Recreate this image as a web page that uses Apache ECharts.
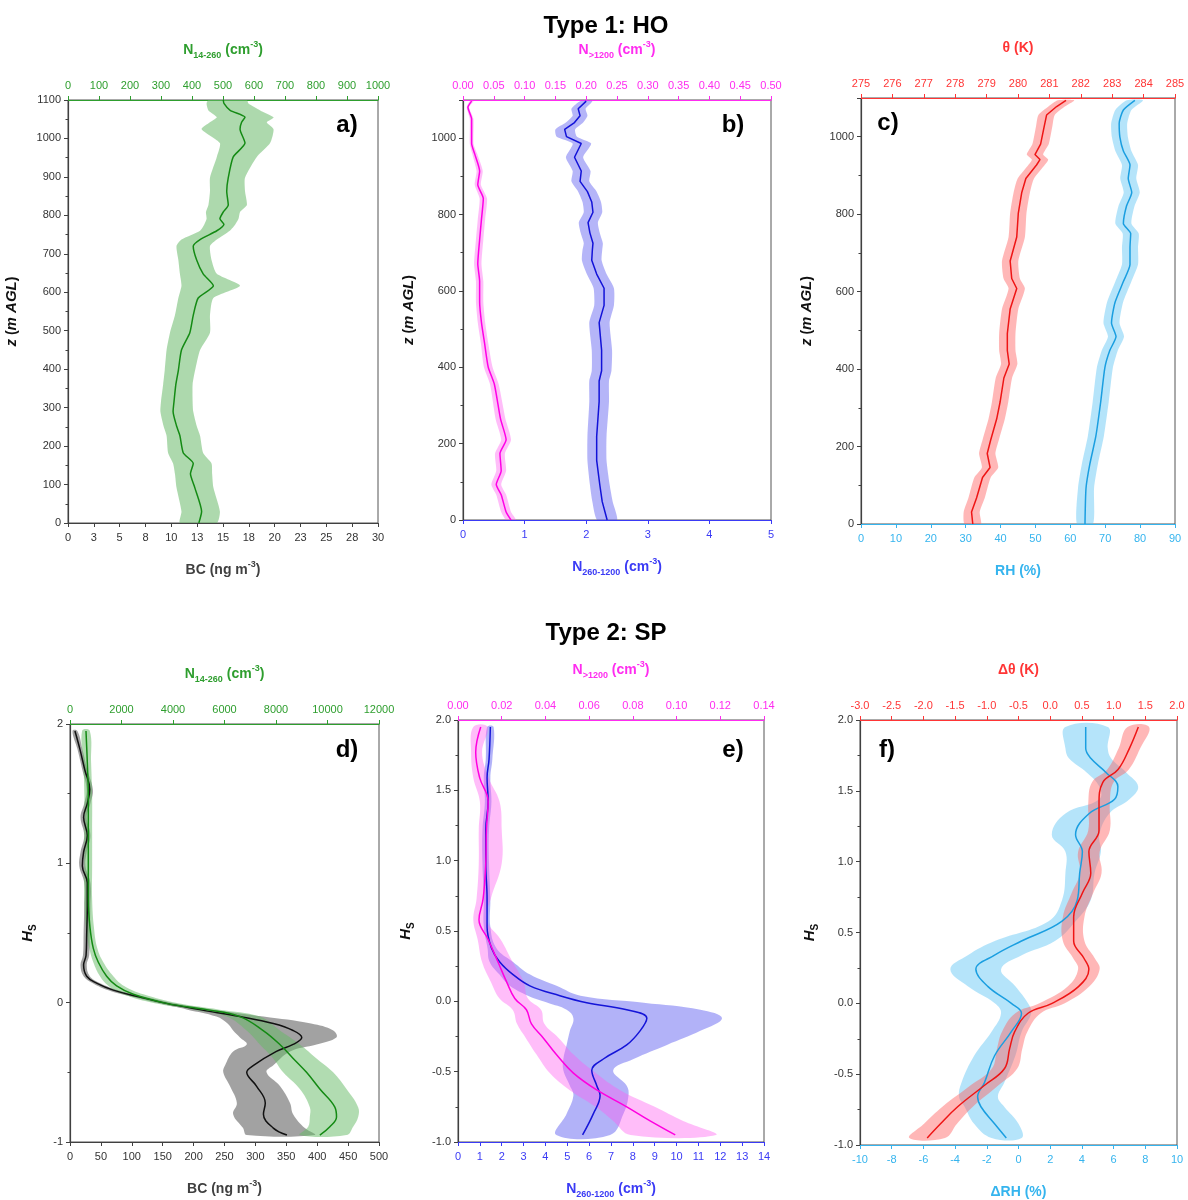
<!DOCTYPE html>
<html>
<head>
<meta charset="utf-8">
<script src="https://cdn.jsdelivr.net/npm/echarts@6/dist/echarts.min.js"></script>
<style>
  html, body { margin: 0; padding: 0; background: #fff; }
  #chart { width: 1188px; height: 1200px; }
</style>
</head>
<body>
<div id="chart"></div>
<script>
// ---- data ----
// a) N14-260 profile (Type 1)
const aZ = [0,30,92,128,155,182,227,253,290,316,361,397,450,495,540,585,617,648,684,720,737,760,777,791,809,827,863,898,952,988,1024,1042,1055,1073,1091,1100];
const aN = [422,431,409,395,404,372,361,350,339,342,348,356,366,393,404,420,469,436,415,404,426,480,503,490,501,517,512,517,533,571,555,560,571,523,503,501];
const aNLo = [361,366,350,345,339,323,318,308,298,300,307,312,318,329,345,356,366,361,356,350,366,426,440,447,445,453,458,458,480,490,431,458,480,453,447,453];
const aNHi = [480,490,469,465,463,436,426,415,404,402,402,410,426,458,458,469,555,480,463,458,480,522,540,550,555,577,571,571,609,652,663,641,663,620,582,577];

// b) N260-1200 (bottom) and N>1200 (top)
const bBlueZ = [0,48,93,156,219,310,364,391,445,517,562,607,644,680,707,725,752,779,806,833,860,887,914,950,986,1004,1023,1041,1059,1077,1097];
const bBlue = [2.34,2.26,2.22,2.17,2.17,2.21,2.21,2.25,2.25,2.21,2.29,2.29,2.17,2.09,2.10,2.11,2.06,2.03,2.11,2.09,2.02,1.90,1.92,1.81,1.92,1.68,1.65,1.81,1.90,1.87,2.00];
const bBlueLo = [2.18,2.10,2.06,2.02,2.02,2.05,2.05,2.09,2.09,2.05,2.13,2.12,2.01,1.93,1.94,1.96,1.91,1.88,1.96,1.94,1.87,1.76,1.78,1.67,1.78,1.52,1.50,1.67,1.78,1.76,1.90];
const bBlueHi = [2.50,2.43,2.38,2.33,2.33,2.37,2.37,2.41,2.42,2.38,2.45,2.45,2.33,2.25,2.26,2.27,2.22,2.19,2.26,2.24,2.17,2.05,2.07,1.95,2.08,1.85,1.82,1.95,2.02,1.99,2.10];
const bMagZ = [0,21,66,93,129,174,210,264,355,400,463,517,571,625,671,734,788,842,878,914,959,986,1050,1081,1097];
const bMag = [0.078,0.070,0.062,0.054,0.062,0.060,0.070,0.061,0.051,0.041,0.035,0.030,0.027,0.027,0.024,0.027,0.030,0.033,0.024,0.027,0.019,0.014,0.014,0.008,0.014];
const bMagLo = [0.070,0.062,0.054,0.046,0.054,0.052,0.062,0.053,0.044,0.034,0.029,0.024,0.021,0.021,0.018,0.021,0.024,0.027,0.019,0.022,0.015,0.011,0.011,0.006,0.011];
const bMagHi = [0.086,0.078,0.070,0.062,0.070,0.068,0.078,0.069,0.058,0.048,0.041,0.036,0.033,0.033,0.030,0.033,0.036,0.039,0.029,0.032,0.023,0.017,0.017,0.010,0.017];

// c) theta (top) and RH (bottom)
const cThZ = [0,31,67,120,146,182,217,271,315,377,413,448,492,555,608,634,679,741,803,856,892,927,941,954,981,1025,1056,1078,1094];
const cTh = [278.56,278.52,278.68,278.87,279.11,279.02,279.13,279.32,279.43,279.55,279.72,279.66,279.66,279.75,279.96,279.80,279.75,279.96,280.01,280.12,280.25,280.59,280.70,280.54,280.72,280.83,280.91,281.23,281.53];
const cThLo = [278.30,278.27,278.42,278.61,278.85,278.76,278.87,279.06,279.17,279.29,279.46,279.40,279.40,279.49,279.70,279.54,279.49,279.70,279.75,279.86,279.99,280.33,280.44,280.28,280.46,280.57,280.65,280.97,281.27];
const cThHi = [278.82,278.78,278.94,279.13,279.37,279.28,279.39,279.58,279.69,279.81,279.98,279.92,279.92,280.01,280.22,280.06,280.01,280.22,280.27,280.38,280.51,280.85,280.96,280.80,280.98,281.09,281.17,281.49,281.79];
const cRhZ = [0,93,155,226,315,404,448,484,519,572,626,670,714,750,776,821,856,892,927,963,999,1034,1069,1094];
const cRh = [64.2,64.5,65.6,67.3,68.7,69.9,71.3,73.1,71.8,72.8,75.2,77.1,77.1,77.3,75.2,76.1,77.6,76.6,77.1,75.2,74.2,74.0,75.2,78.5];
const cRhLo = [61.9,62.2,63.3,65.0,66.4,67.6,69.0,70.8,69.5,70.5,72.9,74.8,74.8,75.0,72.9,73.8,75.3,74.3,74.8,72.9,71.9,71.7,72.9,76.2];
const cRhHi = [66.5,66.8,67.9,69.6,71.0,72.2,73.6,75.4,74.1,75.1,77.5,79.4,79.4,79.6,77.5,78.4,79.9,78.9,79.4,77.5,76.5,76.3,77.5,80.8];

// d) BC (bottom, black) and N14-260 (top, green), Type 2
const dBcH = [1.95,1.82,1.67,1.53,1.43,1.33,1.20,1.08,0.98,0.86,0.69,0.49,0.34,0.27,0.19,0.14,0.09,0.04,-0.005,-0.05,-0.10,-0.15,-0.20,-0.25,-0.30,-0.35,-0.45,-0.50,-0.60,-0.72,-0.80,-0.90,-0.95];
const dBc = [8,16,24,32,28,22,28,22,20,28,28,27,26,22,27,43,70,113,156,210,275,329,361,375,361,334,297,286,302,316,313,329,351];
const dBcLo = [4,12,20,27,23,17,23,17,15,23,23,22,21,17,22,37,62,103,144,190,237,255,264,275,286,264,251,248,259,270,264,280,286];
const dBcHi = [12,20,28,37,33,27,33,27,25,33,33,32,31,27,32,49,78,123,168,232,313,390,426,431,399,356,329,318,340,356,361,380,396];
const dNH = [1.95,1.72,1.48,1.23,0.98,0.74,0.54,0.39,0.29,0.19,0.12,0.06,-0.005,-0.05,-0.10,-0.20,-0.30,-0.40,-0.50,-0.62,-0.75,-0.82,-0.89,-0.95];
const dN = [621,673,711,711,711,711,776,905,1100,1423,1811,2458,3752,5304,6598,7503,8150,8668,9185,9703,10285,10350,10091,9703];
const dNLo = [470,520,560,560,560,560,620,750,905,1164,1500,2070,3300,4800,6080,6857,7374,7891,8279,8926,9314,9314,9250,8926];
const dNHi = [770,820,860,860,860,860,930,1060,1294,1682,2100,2846,4200,5800,7374,8150,8926,9573,10220,10737,11190,11190,10996,10737];

// e) N260-1200 (bottom, blue) and N>1200 (top, magenta)
const eBH = [1.95,1.72,1.59,1.42,1.22,0.98,0.73,0.53,0.38,0.28,0.19,0.11,0.04,-0.01,-0.06,-0.12,-0.21,-0.31,-0.41,-0.49,-0.60,-0.67,-0.80,-0.95];
const eB = [1.48,1.42,1.33,1.38,1.27,1.27,1.33,1.33,1.53,1.91,2.52,3.29,4.66,5.89,7.72,8.64,8.33,7.72,6.65,6.12,6.35,6.50,6.19,5.70];
const eBLo = [1.33,1.27,1.18,1.23,1.12,1.12,1.18,1.18,1.35,1.45,1.90,2.37,3.20,4.10,4.97,5.28,5.12,4.97,4.82,4.82,5.12,5.28,4.97,4.50];
const eBHi = [1.63,1.57,1.48,1.53,1.42,1.42,1.48,1.48,1.75,2.52,3.30,4.51,5.60,8.50,11.09,12.08,11.09,9.56,8.03,7.10,7.72,7.80,7.57,6.96];
const eMH = [1.95,1.77,1.59,1.42,1.22,0.98,0.73,0.58,0.44,0.28,0.14,0.02,-0.06,-0.16,-0.26,-0.38,-0.51,-0.63,-0.75,-0.85,-0.95];
const eM = [0.0104,0.0081,0.0099,0.0138,0.0130,0.0127,0.0115,0.0096,0.0138,0.0183,0.0222,0.0260,0.0313,0.0336,0.0390,0.0451,0.0528,0.0635,0.0772,0.0879,0.0994];
const eMLo = [0.0070,0.0060,0.0070,0.0100,0.0095,0.0095,0.0085,0.0070,0.0090,0.0110,0.0150,0.0190,0.0250,0.0270,0.0310,0.0360,0.0420,0.0510,0.0630,0.0710,0.0790];
const eMHi = [0.0135,0.0110,0.0140,0.0190,0.0200,0.0200,0.0150,0.0130,0.0195,0.0250,0.0300,0.0320,0.0380,0.0395,0.0460,0.0530,0.0630,0.0740,0.0900,0.1030,0.1180];

// f) dRH (bottom, light blue) and dTheta (top, red)
const fBH = [1.95,1.80,1.73,1.63,1.53,1.44,1.34,1.19,1.07,0.92,0.73,0.58,0.44,0.34,0.24,0.12,0.00,-0.07,-0.20,-0.37,-0.56,-0.66,-0.73,-0.85,-0.95];
const fB = [4.24,4.24,4.56,5.52,6.27,6.06,4.46,3.60,4.03,3.86,3.71,2.75,0.19,-1.51,-2.69,-1.94,-0.45,0.19,-0.45,-1.51,-2.15,-2.58,-2.37,-1.51,-0.77];
const fBLo = [2.96,2.96,3.18,4.30,5.10,5.10,2.96,2.10,2.96,2.96,2.75,1.90,-1.50,-3.20,-4.30,-3.20,-1.50,-1.10,-1.70,-2.80,-3.60,-3.75,-3.40,-2.80,-1.70];
const fBHi = [5.63,5.63,5.84,6.80,7.55,7.00,5.73,5.10,5.20,4.80,4.56,3.60,2.30,0.20,-1.10,-0.20,0.60,0.80,0.20,-0.20,-0.90,-1.30,-0.90,0.00,0.20];
const fRH = [1.95,1.80,1.65,1.56,1.41,1.22,1.07,0.92,0.78,0.61,0.44,0.32,0.24,0.12,0.00,-0.07,-0.20,-0.32,-0.46,-0.58,-0.73,-0.85,-0.95];
const fR = [1.39,1.25,1.07,0.83,0.77,0.77,0.61,0.64,0.51,0.37,0.37,0.53,0.61,0.45,0.03,-0.35,-0.56,-0.64,-0.72,-1.04,-1.46,-1.73,-1.94];
const fRLo = [1.22,1.08,0.90,0.66,0.60,0.60,0.44,0.47,0.34,0.20,0.20,0.36,0.44,0.28,-0.17,-0.55,-0.76,-0.84,-0.92,-1.26,-1.70,-1.99,-2.22];
const fRHi = [1.56,1.42,1.24,1.00,0.94,0.94,0.78,0.81,0.68,0.54,0.54,0.70,0.78,0.62,0.23,-0.15,-0.36,-0.44,-0.52,-0.82,-1.22,-1.47,-1.66];

// ---- styling ----
const FONT = 'Arial, "Liberation Sans", sans-serif';
const GRAY = '#404040';
const GREEN = '#2e9e2e', MAGENTA = '#ff2cf0', BLUE = '#3a3af5', RED = '#ff3535', LBLUE = '#35b4ee';

function richName(color) {
    return {
        fontFamily: FONT,
        rich: {
            t: { fontSize: 14, fontWeight: 'bold', color: color, lineHeight: 20, fontFamily: FONT },
            sub: { fontSize: 9, fontWeight: 'bold', color: color, lineHeight: 20, verticalAlign: 'bottom', fontFamily: FONT },
            sup: { fontSize: 9, fontWeight: 'bold', color: color, lineHeight: 20, verticalAlign: 'top', fontFamily: FONT },
            i: { fontSize: 15, fontWeight: 'bold', fontStyle: 'italic', color: color, lineHeight: 20, fontFamily: FONT },
            si: { fontSize: 10, fontWeight: 'bold', color: color, lineHeight: 20, verticalAlign: 'bottom', fontFamily: FONT }
        }
    };
}

function xAxis(grid, pos, min, max, interval, color, name, fmt, labelColor) {
    return {
        type: 'value', gridIndex: grid, position: pos, min: min, max: max, interval: interval,
        name: name, nameLocation: 'middle', nameGap: pos === 'top' ? 40 : 37,
        nameTextStyle: richName(color),
        axisLine: { show: true, onZero: false, lineStyle: { color: color, width: 1.2 } },
        axisTick: { show: true, length: 4, lineStyle: { color: color } },
        axisLabel: { color: labelColor || color, fontSize: 11, fontFamily: FONT, formatter: fmt, margin: 9 },
        splitLine: { show: false }
    };
}

function yAxis(grid, min, max, interval, name, gap, fmt) {
    return {
        type: 'value', gridIndex: grid, min: min, max: max, interval: interval,
        name: name, nameLocation: 'middle', nameGap: gap, nameRotate: 90,
        nameTextStyle: richName('#111'),
        axisLine: { show: true, onZero: false, lineStyle: { color: GRAY, width: 1.2 } },
        axisTick: { show: true, length: 4, lineStyle: { color: GRAY } },
        minorTick: { show: true, splitNumber: 2, length: 2.5, lineStyle: { color: GRAY } },
        axisLabel: { color: '#333', fontSize: 11, fontFamily: FONT, formatter: fmt, margin: 7 },
        splitLine: { show: false }
    };
}

// shaded band between lo and hi, drawn as one polygon in axis coordinates
function band(xi, yi, ys, lo, hi, color, smooth) {
    return {
        type: 'custom', xAxisIndex: xi, yAxisIndex: yi, silent: true, clip: true,
        data: ys.map((y, i) => [lo[i], hi[i], y]),
        encode: { x: [0, 1], y: 2 },
        renderItem: function (params, api) {
            if (params.dataIndex !== 0) return;
            const pts = [];
            for (let i = 0; i < ys.length; i++) pts.push(api.coord([lo[i], ys[i]]));
            for (let i = ys.length - 1; i >= 0; i--) pts.push(api.coord([hi[i], ys[i]]));
            return { type: 'polygon', shape: { points: pts, smooth: smooth }, style: { fill: color } };
        }
    };
}

function line(xi, yi, ys, xs, color, smooth) {
    return {
        type: 'line', xAxisIndex: xi, yAxisIndex: yi, showSymbol: false, silent: true,
        smooth: smooth, data: ys.map((y, i) => [xs[i], y]),
        lineStyle: { color: color, width: 1.5 }, z: 5
    };
}

const grids = [
    { left: 68, top: 100, width: 310, height: 423 },
    { left: 463, top: 100, width: 308, height: 420 },
    { left: 861, top: 98, width: 314, height: 426 },
    { left: 70, top: 724, width: 309, height: 418 },
    { left: 458, top: 720, width: 306, height: 422 },
    { left: 860, top: 720, width: 317, height: 426 }
].map(g => Object.assign({ show: true, borderColor: '#555', borderWidth: 1, containLabel: false }, g));

const nameN14 = '{t|N}{sub|14-260}{t| (cm}{sup|-3}{t|)}';
const nameN1200 = '{t|N}{sub|>1200}{t| (cm}{sup|-3}{t|)}';
const nameN260 = '{t|N}{sub|260-1200}{t| (cm}{sup|-3}{t|)}';
const nameBC = '{t|BC (ng m}{sup|-3}{t|)}';
const nameZ = '{i|z}{t| (}{i|m AGL}{t|)}';
const nameHs = '{i|H}{si|S}';

const f2 = v => v.toFixed(2), f1 = v => v.toFixed(1), f0 = v => String(Math.round(v));

const xAxes = [
    xAxis(0, 'bottom', 0, 30, 2.5, GRAY, nameBC, f0, '#333'),
    xAxis(0, 'top', 0, 1000, 100, GREEN, nameN14, f0),
    xAxis(1, 'bottom', 0, 5, 1, BLUE, nameN260, f0),
    xAxis(1, 'top', 0, 0.5, 0.05, MAGENTA, nameN1200, f2),
    xAxis(2, 'bottom', 0, 90, 10, LBLUE, '{t|RH (%)}', f0),
    xAxis(2, 'top', 275, 285, 1, RED, '{t|θ (K)}', f0),
    xAxis(3, 'bottom', 0, 500, 50, GRAY, nameBC, f0, '#333'),
    xAxis(3, 'top', 0, 12000, 2000, GREEN, nameN14, f0),
    xAxis(4, 'bottom', 0, 14, 1, BLUE, nameN260, f0),
    xAxis(4, 'top', 0, 0.14, 0.02, MAGENTA, nameN1200, f2),
    xAxis(5, 'bottom', -10, 10, 2, LBLUE, '{t|ΔRH (%)}', f0),
    xAxis(5, 'top', -3, 2, 0.5, RED, '{t|Δθ (K)}', f1)
];

const yAxes = [
    yAxis(0, 0, 1100, 100, nameZ, 46, f0),
    yAxis(1, 0, 1100, 200, nameZ, 44, v => (v % 200 === 0 ? String(v) : '')),
    yAxis(2, 0, 1100, 200, nameZ, 44, v => (v % 200 === 0 ? String(v) : '')),
    yAxis(3, -1, 2, 1, nameHs, 32, f0),
    yAxis(4, -1, 2, 0.5, nameHs, 42, f1),
    yAxis(5, -1, 2, 0.5, nameHs, 40, f1)
];

const series = [
    band(1, 0, aZ, aNLo, aNHi, 'rgba(105,185,105,0.55)', 0.2),
    line(1, 0, aZ, aN, '#148a14', 0.2),

    band(2, 1, bBlueZ, bBlueLo, bBlueHi, 'rgba(90,90,240,0.45)', 0.2),
    band(3, 1, bMagZ, bMagLo, bMagHi, 'rgba(255,90,240,0.4)', 0.2),
    line(2, 1, bBlueZ, bBlue, '#1212d8', false),
    line(3, 1, bMagZ, bMag, '#ff00e6', 0.2),

    band(5, 2, cThZ, cThLo, cThHi, 'rgba(255,95,95,0.45)', 0.2),
    band(4, 2, cRhZ, cRhLo, cRhHi, 'rgba(90,195,245,0.45)', 0.2),
    line(5, 2, cThZ, cTh, '#ee1515', false),
    line(4, 2, cRhZ, cRh, '#1a9ee0', 0.2),

    band(6, 3, dBcH, dBcLo, dBcHi, 'rgba(70,70,70,0.5)', 0.4),
    band(7, 3, dNH, dNLo, dNHi, 'rgba(100,185,100,0.5)', 0.4),
    line(6, 3, dBcH, dBc, '#111111', 0.4),
    line(7, 3, dNH, dN, '#138a13', 0.4),

    band(8, 4, eBH, eBLo, eBHi, 'rgba(95,95,240,0.48)', 0.4),
    band(9, 4, eMH, eMLo, eMHi, 'rgba(255,90,240,0.4)', 0.4),
    line(8, 4, eBH, eB, '#1414d8', 0.4),
    line(9, 4, eMH, eM, '#ff00e0', 0.4),

    band(10, 5, fBH, fBLo, fBHi, 'rgba(90,195,245,0.45)', 0.4),
    band(11, 5, fRH, fRLo, fRHi, 'rgba(255,95,95,0.45)', 0.4),
    line(10, 5, fBH, fB, '#1a9ee0', 0.4),
    line(11, 5, fRH, fR, '#ee1515', 0.4)
];

function label(text, x, y, size) {
    return {
        type: 'text', x: x, y: y, z: 100,
        style: { text: text, fill: '#000', font: 'bold ' + size + 'px ' + FONT, textAlign: 'center', textVerticalAlign: 'middle' }
    };
}

const chart = echarts.init(document.getElementById('chart'), null, { renderer: 'canvas' });
chart.setOption({
    animation: false,
    backgroundColor: '#fff',
    grid: grids,
    xAxis: xAxes,
    yAxis: yAxes,
    series: series,
    graphic: [
        label('Type 1: HO', 606, 26, 24),
        label('Type 2: SP', 606, 633, 24),
        label('a)', 347, 125, 24),
        label('b)', 733, 125, 24),
        label('c)', 888, 123, 24),
        label('d)', 347, 750, 24),
        label('e)', 733, 750, 24),
        label('f)', 887, 750, 24)
    ]
});
window.addEventListener('resize', chart.resize);
</script>
</body>
</html>
